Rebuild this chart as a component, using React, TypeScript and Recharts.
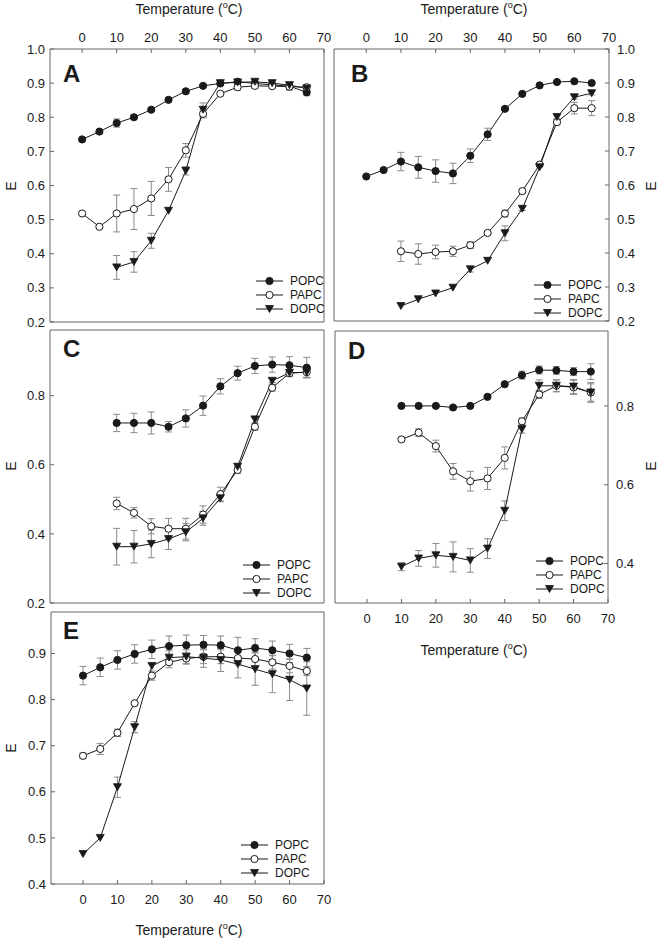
import React from 'react';
import { LineChart, Line, XAxis, YAxis, ErrorBar, Legend } from 'recharts';

const TEMPS = [0, 5, 10, 15, 20, 25, 30, 35, 40, 45, 50, 55, 60, 65];
const X_TICKS = [0, 10, 20, 30, 40, 50, 60, 70];
const SERIES_NAMES = ['POPC', 'PAPC', 'DOPC'];

// panel A
const A_POPC = [0.735, 0.758, 0.783, 0.8, 0.822, 0.851, 0.876, 0.892, 0.899, 0.904, 0.899, 0.895, 0.891, 0.873];
const A_POPC_ERR = [0, 0, 0.012, 0.006, 0.005, 0.006, 0.006, 0.004, 0.006, 0.006, 0.006, 0.008, 0.012, 0.01];
const A_PAPC = [0.518, 0.479, 0.518, 0.531, 0.562, 0.618, 0.703, 0.81, 0.869, 0.888, 0.892, 0.891, 0.89, 0.888];
const A_PAPC_ERR = [0, 0, 0.054, 0.06, 0.05, 0.035, 0.02, 0.012, 0, 0.008, 0.008, 0.006, 0.008, 0.008];
const A_DOPC = [null, null, 0.36, 0.376, 0.438, 0.526, 0.643, 0.822, 0.9, 0.902, 0.904, 0.9, 0.894, 0.884];
const A_DOPC_ERR = [0, 0, 0.035, 0.03, 0.022, 0, 0.012, 0.02, 0.006, 0.004, 0.004, 0.004, 0.006, 0.006];

// panel B
const B_POPC = [0.625, 0.644, 0.669, 0.652, 0.641, 0.634, 0.686, 0.749, 0.824, 0.868, 0.893, 0.903, 0.905, 0.9];
const B_POPC_ERR = [0, 0, 0.027, 0.032, 0.033, 0.03, 0.02, 0.018, 0.005, 0, 0, 0, 0, 0.005];
const B_PAPC = [null, null, 0.405, 0.397, 0.403, 0.405, 0.423, 0.459, 0.516, 0.582, 0.66, 0.785, 0.826, 0.826];
const B_PAPC_ERR = [0, 0, 0.03, 0.03, 0.02, 0.015, 0.01, 0.005, 0.01, 0.005, 0.006, 0.008, 0.017, 0.022];
const B_DOPC = [null, null, 0.244, 0.264, 0.281, 0.298, 0.352, 0.377, 0.458, 0.53, 0.652, 0.8, 0.858, 0.87];
const B_DOPC_ERR = [0, 0, 0, 0, 0, 0, 0.008, 0, 0.022, 0.005, 0, 0.005, 0.005, 0.005];

// panel C
const C_POPC = [null, null, 0.721, 0.721, 0.721, 0.71, 0.734, 0.771, 0.827, 0.865, 0.886, 0.89, 0.888, 0.881];
const C_POPC_ERR = [0, 0, 0.025, 0.028, 0.032, 0.015, 0.025, 0.028, 0.022, 0.02, 0.022, 0.022, 0.025, 0.03];
const C_PAPC = [null, null, 0.488, 0.461, 0.422, 0.415, 0.415, 0.456, 0.515, 0.585, 0.71, 0.823, 0.865, 0.868];
const C_PAPC_ERR = [0, 0, 0.018, 0.015, 0.022, 0.03, 0.03, 0.025, 0.02, 0.01, 0.01, 0.01, 0.01, 0.015];
const C_DOPC = [null, null, 0.363, 0.363, 0.371, 0.385, 0.405, 0.445, 0.503, 0.594, 0.731, 0.843, 0.866, 0.868];
const C_DOPC_ERR = [0, 0, 0.053, 0.047, 0.04, 0.03, 0.025, 0.02, 0.01, 0.01, 0.01, 0.005, 0.008, 0.015];

// panel D
const D_POPC = [null, null, 0.8, 0.8, 0.8, 0.796, 0.8, 0.823, 0.855, 0.878, 0.891, 0.89, 0.887, 0.887];
const D_POPC_ERR = [0, 0, 0, 0, 0, 0, 0, 0, 0, 0.01, 0.01, 0.01, 0.01, 0.02];
const D_PAPC = [null, null, 0.715, 0.732, 0.698, 0.634, 0.609, 0.616, 0.668, 0.761, 0.829, 0.851, 0.847, 0.834];
const D_PAPC_ERR = [0, 0, 0, 0.01, 0.015, 0.02, 0.025, 0.028, 0.028, 0.008, 0.01, 0.015, 0.018, 0.022];
const D_DOPC = [null, null, 0.392, 0.413, 0.421, 0.417, 0.408, 0.438, 0.534, 0.741, 0.851, 0.851, 0.849, 0.834];
const D_DOPC_ERR = [0, 0, 0.01, 0.02, 0.03, 0.038, 0.03, 0.025, 0.025, 0.01, 0.015, 0.015, 0.018, 0.025];

// panel E
const E_POPC = [0.852, 0.87, 0.886, 0.899, 0.909, 0.916, 0.918, 0.919, 0.918, 0.907, 0.912, 0.907, 0.9, 0.891];
const E_POPC_ERR = [0.02, 0.02, 0.02, 0.02, 0.02, 0.022, 0.022, 0.02, 0.02, 0.028, 0.02, 0.02, 0.02, 0.02];
const E_PAPC = [0.678, 0.693, 0.728, 0.792, 0.852, 0.881, 0.889, 0.893, 0.893, 0.89, 0.888, 0.881, 0.873, 0.862];
const E_PAPC_ERR = [0.006, 0.012, 0.008, 0, 0.01, 0.012, 0.012, 0.015, 0.015, 0.015, 0.015, 0.015, 0.015, 0.01];
const E_DOPC = [0.465, 0.5, 0.61, 0.74, 0.873, 0.891, 0.893, 0.89, 0.886, 0.877, 0.866, 0.855, 0.843, 0.824];
const E_DOPC_ERR = [0, 0, 0.022, 0.012, 0, 0.015, 0.015, 0.02, 0.025, 0.03, 0.035, 0.04, 0.045, 0.058];

const FONT = '"Liberation Sans", Arial, sans-serif';
const INK = '#1a1a1a';
const AXIS = '#666';
const ERR = '#8a8a8a';
const PAD = 40;
const X_DOMAIN: [number, number] = [-9.3, 70];

const buildRows = (p, pe, a, ae, d, de) =>
  TEMPS.map((t, i) => ({
    t,
    popc: p[i], popcErr: pe[i],
    papc: a[i], papcErr: ae[i],
    dopc: d[i], dopcErr: de[i],
  }));

const Marker = ({ kind, cx, cy }) => {
  if (kind === 'DOPC') {
    return <polygon points={`${cx - 4},${cy - 3.5} ${cx + 4},${cy - 3.5} ${cx},${cy + 3.5}`} fill={INK} stroke={INK} strokeWidth={0.8} />;
  }
  return <circle cx={cx} cy={cy} r={3.6} fill={kind === 'PAPC' ? '#fff' : INK} stroke={INK} strokeWidth={1} />;
};

const dotFor = (kind) => (props) => {
  const { cx, cy, value, index } = props;
  if (cx == null || cy == null || value == null) return <g key={`${kind}-${index}`} />;
  return <Marker key={`${kind}-${index}`} kind={kind} cx={cx} cy={cy} />;
};

const LegendBox = () => (
  <div style={{ fontFamily: FONT, fontSize: 12, color: INK }}>
    {SERIES_NAMES.map((name) => (
      <div key={name} style={{ display: 'flex', alignItems: 'center', height: 14 }}>
        <svg width={27} height={10} style={{ display: 'block' }}>
          <line x1={0} x2={27} y1={5} y2={5} stroke={INK} strokeWidth={1} />
          <Marker kind={name} cx={13.5} cy={5} />
        </svg>
        <span style={{ marginLeft: 7, lineHeight: '14px' }}>{name}</span>
      </div>
    ))}
  </div>
);

const tickStyle = { fill: INK, fontSize: 13, fontFamily: FONT };

const Panel = ({ cfg }) => {
  const { box, yDomain, yTicks, ySide, xLabels, data, legend } = cfg;
  const w = box.right - box.left;
  const h = box.bottom - box.top;
  const ox = box.left - PAD;
  const oy = box.top - PAD;
  const keys = ['popc', 'papc', 'dopc'];
  return (
    <div style={{ position: 'absolute', left: ox, top: oy }}>
      <LineChart width={w + 2 * PAD} height={h + 2 * PAD} data={data} margin={{ top: 0, right: 0, bottom: 0, left: 0 }}>
        <XAxis xAxisId="b" orientation="bottom" dataKey="t" type="number" domain={X_DOMAIN} ticks={X_TICKS}
          interval={0} height={PAD} allowDataOverflow stroke={AXIS} tickSize={-4} tickMargin={15}
          tick={xLabels === 'bottom' ? tickStyle : false} />
        <XAxis xAxisId="t" orientation="top" dataKey="t" type="number" domain={X_DOMAIN} ticks={X_TICKS}
          interval={0} height={PAD} allowDataOverflow stroke={AXIS} tickSize={-4} tickMargin={11}
          tick={xLabels === 'top' ? tickStyle : false} />
        <YAxis yAxisId="m" orientation={ySide} type="number" domain={yDomain} ticks={yTicks} interval={0}
          width={PAD} allowDataOverflow stroke={AXIS} tickSize={-4} tickMargin={ySide === 'left' ? 9 : 12}
          tick={tickStyle} tickFormatter={(v) => v.toFixed(1)} />
        <YAxis yAxisId="s" orientation={ySide === 'left' ? 'right' : 'left'} type="number" domain={yDomain}
          width={PAD} allowDataOverflow stroke={AXIS} tick={false} tickLine={false} />
        {keys.map((k, i) => (
          <Line key={k} xAxisId="b" yAxisId="m" dataKey={k} name={SERIES_NAMES[i]} stroke={INK} strokeWidth={1}
            dot={dotFor(SERIES_NAMES[i])} activeDot={false} isAnimationActive={false}>
            <ErrorBar dataKey={`${k}Err`} direction="y" width={3.5} stroke={ERR} strokeWidth={1} />
          </Line>
        ))}
        <Legend layout="vertical" align="center" verticalAlign="middle" content={<LegendBox />}
          wrapperStyle={{ left: legend[0] - ox, top: legend[1] - oy - 7, width: 80, bottom: 'auto', right: 'auto' }} />
      </LineChart>
    </div>
  );
};

const PANELS = [
  { letter: 'A', box: { left: 50, top: 49, right: 324, bottom: 322 }, yDomain: [0.2, 1.0], yTicks: [0.2, 0.3, 0.4, 0.5, 0.6, 0.7, 0.8, 0.9, 1.0],
    ySide: 'left', xLabels: 'top', legend: [256, 281], letterPos: [63, 62],
    data: buildRows(A_POPC, A_POPC_ERR, A_PAPC, A_PAPC_ERR, A_DOPC, A_DOPC_ERR) },
  { letter: 'B', box: { left: 334, top: 49, right: 609, bottom: 321 }, yDomain: [0.2, 1.0], yTicks: [0.2, 0.3, 0.4, 0.5, 0.6, 0.7, 0.8, 0.9, 1.0],
    ySide: 'right', xLabels: 'top', legend: [534, 285], letterPos: [351, 62],
    data: buildRows(B_POPC, B_POPC_ERR, B_PAPC, B_PAPC_ERR, B_DOPC, B_DOPC_ERR) },
  { letter: 'C', box: { left: 50, top: 330, right: 324, bottom: 603 }, yDomain: [0.2, 0.99], yTicks: [0.2, 0.4, 0.6, 0.8],
    ySide: 'left', xLabels: 'none', legend: [243, 565], letterPos: [63, 337],
    data: buildRows(C_POPC, C_POPC_ERR, C_PAPC, C_PAPC_ERR, C_DOPC, C_DOPC_ERR) },
  { letter: 'D', box: { left: 335, top: 331, right: 608, bottom: 603 }, yDomain: [0.3, 0.99], yTicks: [0.4, 0.6, 0.8],
    ySide: 'right', xLabels: 'bottom', legend: [536, 561], letterPos: [348, 339],
    data: buildRows(D_POPC, D_POPC_ERR, D_PAPC, D_PAPC_ERR, D_DOPC, D_DOPC_ERR) },
  { letter: 'E', box: { left: 51, top: 612, right: 324, bottom: 884 }, yDomain: [0.4, 0.99], yTicks: [0.4, 0.5, 0.6, 0.7, 0.8, 0.9],
    ySide: 'left', xLabels: 'bottom', legend: [241, 845], letterPos: [63, 619],
    data: buildRows(E_POPC, E_POPC_ERR, E_PAPC, E_PAPC_ERR, E_DOPC, E_DOPC_ERR) },
];

const TempTitle = ({ cx, top }) => (
  <div style={{ position: 'absolute', left: cx - 100, top, width: 200, textAlign: 'center', fontFamily: FONT, fontSize: 14, lineHeight: '14px', color: INK }}>
    Temperature (<span style={{ fontSize: 9, verticalAlign: 'super', lineHeight: 0 }}>o</span>C)
  </div>
);

const ELabel = ({ cx, cy }) => (
  <div style={{ position: 'absolute', left: cx - 7, top: cy - 7, width: 14, height: 14, lineHeight: '14px', textAlign: 'center',
    fontFamily: FONT, fontSize: 14, color: INK, transform: 'rotate(-90deg)' }}>
    E
  </div>
);

export default function App() {
  return (
    <div style={{ position: 'absolute', left: 0, top: 0, width: 660, height: 938, background: '#fff', overflow: 'hidden' }}>
      {PANELS.map((p) => (
        <Panel key={p.letter} cfg={p} />
      ))}
      {PANELS.map((p) => (
        <div key={`l-${p.letter}`} style={{ position: 'absolute', left: p.letterPos[0], top: p.letterPos[1], fontFamily: FONT, fontWeight: 'bold', fontSize: 24, lineHeight: '24px', color: INK }}>
          {p.letter}
        </div>
      ))}
      <TempTitle cx={189} top={2} />
      <TempTitle cx={474} top={2} />
      <TempTitle cx={474} top={643} />
      <TempTitle cx={189} top={923} />
      <ELabel cx={11} cy={186} />
      <ELabel cx={651} cy={186} />
      <ELabel cx={11} cy={466} />
      <ELabel cx={651} cy={466} />
      <ELabel cx={11} cy={748} />
    </div>
  );
}
